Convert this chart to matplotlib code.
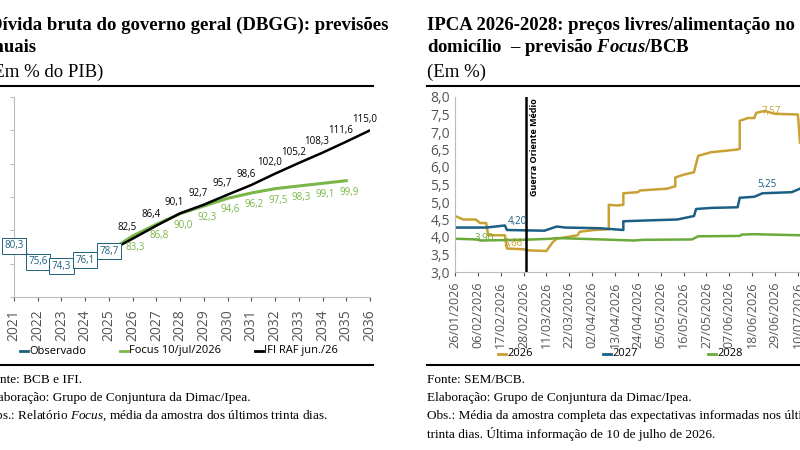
import numpy as np
import matplotlib.pyplot as plt
from datetime import date, timedelta

# painel esquerdo: DBGG (% do PIB)
anos_obs = [2021, 2022, 2023, 2024, 2025]
obs = [80.3, 75.6, 74.3, 76.1, 78.7]
anos_ifi = list(range(2025, 2037))
ifi = [78.7, 82.5, 86.4, 90.1, 92.7, 95.7, 98.6, 102.0, 105.2, 108.3, 111.6, 115.0]
anos_focus = list(range(2025, 2036))
focus = [78.7, 83.3, 86.8, 90.0, 92.3, 94.6, 96.2, 97.5, 98.3, 99.1, 99.9]

# painel direito: IPCA preços livres/alimentação no domicílio (dias desde 26/01/2026, valor)
ipca26 = [(0, 4.60), (4, 4.50), (10, 4.50), (12, 4.40), (15, 4.40), (16, 4.05), (24.5, 4.05),
          (25, 3.67), (33, 3.65), (35, 3.62), (44, 3.60), (47, 3.85), (49, 3.95), (54, 4.00),
          (59, 4.05), (60, 4.15), (67, 4.20), (74, 4.22), (74.5, 4.92), (78, 4.90), (81, 4.92),
          (81.5, 5.25), (88, 5.28), (89, 5.33), (102, 5.38), (106, 5.45), (106.5, 5.70),
          (110, 5.78), (115, 5.85), (117, 6.32), (119, 6.35), (123, 6.42), (136, 6.50),
          (137, 6.52), (137.5, 7.32), (141, 7.40), (144, 7.40), (145, 7.55), (149, 7.60),
          (154, 7.52), (165, 7.50), (166, 6.70)]
ipca27 = [(0, 4.27), (15, 4.27), (24, 4.33), (25.5, 4.20), (43, 4.18), (49, 4.30), (53, 4.27),
          (70, 4.25), (81, 4.20), (81.5, 4.45), (96, 4.48), (107, 4.50), (115, 4.60),
          (116.5, 4.80), (123, 4.83), (136, 4.85), (137.5, 5.12), (144, 5.15), (148, 5.25),
          (162, 5.28), (166, 5.38)]
ipca28 = [(0, 3.95), (11, 3.93), (12, 3.90), (33, 3.92), (46, 3.95), (49, 3.97), (60, 3.95),
          (86, 3.90), (91, 3.92), (114, 3.93), (117, 4.02), (137, 4.03), (138, 4.07),
          (144, 4.08), (166, 4.05)]

inicio = date(2026, 1, 26)
def to_dates(pts):
    return [inicio + timedelta(days=d) for d, _ in pts], [v for _, v in pts]

serif = 'Liberation Serif'
sans = 'Open Sans'
plt.rcParams['mathtext.fontset'] = 'custom'
plt.rcParams['mathtext.it'] = 'Liberation Serif:italic'
plt.rcParams['mathtext.rm'] = 'Liberation Serif'
plt.rcParams['mathtext.bfit'] = 'Liberation Serif:italic:bold'
fig = plt.figure(figsize=(8, 4.5), dpi=100)

# ---------- esquerdo ----------
ax = fig.add_axes([14 / 800, 1 - 297 / 450, 356 / 800, 200 / 450])
ax.plot(anos_obs, obs, color='#1f5f7f', lw=1.8)
ax.plot(anos_focus, focus, color='#7ab648', lw=2.2)
ax.plot(anos_ifi, ifi, color='black', lw=1.8)
for x, v in zip(anos_obs, obs):
    ax.annotate(f'{v:.1f}'.replace('.', ','), (x, v), fontsize=7, color='#1f5f7f', ha='center', va='center',
                family=sans, bbox=dict(boxstyle='square,pad=0.25', fc='white', ec='#1f5f7f', lw=0.7))
for x, v in zip(anos_ifi[1:], ifi[1:]):
    ax.annotate(f'{v:.1f}'.replace('.', ','), (x, v), xytext=(-4, 6), textcoords='offset points',
                fontsize=7, ha='center', family=sans)
for x, v in zip(anos_focus[1:], focus[1:]):
    ax.annotate(f'{v:.1f}'.replace('.', ','), (x, v), xytext=(2, -10), textcoords='offset points',
                fontsize=7, ha='center', color='#7ab648', family=sans)
ax.set_xlim(2021, 2036)
ax.set_ylim(65, 125)
ax.set_yticks(range(65, 126, 10))
ax.set_yticklabels([])
ax.set_xticks(range(2021, 2037))
ax.tick_params(axis='x', rotation=90, labelsize=10, colors='#555555', length=3, pad=6)
ax.tick_params(axis='y', length=3, colors='#bbbbbb')
for s in ['top', 'right']:
    ax.spines[s].set_visible(False)
for s in ['left', 'bottom']:
    ax.spines[s].set_color('#bbbbbb')
for lbl in ax.get_xticklabels():
    lbl.set_family(sans)

# ---------- direito ----------
ax2 = fig.add_axes([455 / 800, 1 - 272 / 450, 345 / 800, 175 / 450])
for pts, c in [(ipca26, '#c9a033'), (ipca27, '#1b5e86'), (ipca28, '#6aaa3a')]:
    xs, ys = to_dates(pts)
    ax2.plot(xs, ys, color=c, lw=1.8)
guerra = date(2026, 3, 1)
ax2.axvline(guerra, color='black', lw=1.8)
ax2.text(guerra + timedelta(days=2.5), 7.95, 'Guerra Oriente Médio', rotation=90, fontsize=6.5,
         fontweight='bold', va='top', ha='left', family=sans)
for d, v, t, c in [(30, 4.28, '4,20', '#1b5e86'), (14, 3.80, '3,90', '#6aaa3a'),
                   (28, 3.65, '3,66', '#c9a033'), (152, 7.42, '7,57', '#c9a033'),
                   (150, 5.33, '5,25', '#1b5e86')]:
    ax2.text(inicio + timedelta(days=d), v, t, fontsize=7, color=c, ha='center', va='bottom', family=sans)
ax2.set_xlim(inicio, inicio + timedelta(days=166.5))
ax2.set_ylim(3.0, 8.0)
ax2.set_yticks(np.arange(3.0, 8.01, 0.5))
ax2.set_yticklabels([f'{v:.1f}'.replace('.', ',') for v in np.arange(3.0, 8.01, 0.5)])
ticks = [inicio + timedelta(days=11 * i) for i in range(16)]
ax2.set_xticks(ticks)
ax2.set_xticklabels([t.strftime('%d/%m/%Y') for t in ticks])
ax2.tick_params(axis='x', rotation=90, labelsize=9, colors='#555555', length=3, pad=4)
ax2.tick_params(axis='y', labelsize=10, colors='#555555', length=0)
for s in ['top', 'right']:
    ax2.spines[s].set_visible(False)
for s in ['left', 'bottom']:
    ax2.spines[s].set_color('#bbbbbb')
for lbl in ax2.get_xticklabels() + ax2.get_yticklabels():
    lbl.set_family(sans)

# legendas
def leg(x, y, cor, txt):
    fig.add_artist(plt.Line2D([x / 800, (x + 8) / 800], [1 - y / 450] * 2, color=cor, lw=2))
    fig.text((x + 9) / 800, 1 - y / 450, txt, fontsize=8, va='center', family=sans)
leg(20, 351, '#1f5f7f', 'Observado')
leg(120, 351, '#7ab648', 'Focus 10/jul/2026')
leg(255, 351, 'black', 'IFI RAF jun./26')
leg(498, 354, '#c9a033', '2026')
leg(603, 354, '#1b5e86', '2027')
leg(708, 354, '#6aaa3a', '2028')
fig.add_artist(plt.Line2D([0, 373 / 800], [1 - 365 / 450] * 2, color='black', lw=1.5))
fig.add_artist(plt.Line2D([427 / 800, 1], [1 - 365 / 450] * 2, color='black', lw=1.5))

# títulos
fs = 13.5
fig.text(-0.014, 1 - 25 / 450, 'Dívida bruta do governo geral (DBGG): previsões', fontsize=fs,
         fontweight='bold', family=serif, va='center')
fig.text(-0.02, 1 - 48 / 450, 'anuais', fontsize=fs, fontweight='bold', family=serif, va='center')
fig.text(-0.016, 1 - 72 / 450, '(Em % do PIB)', fontsize=fs, family=serif, va='center')
fig.text(427 / 800, 1 - 25 / 450, 'IPCA 2026-2028: preços livres/alimentação no', fontsize=fs,
         fontweight='bold', family=serif, va='center')
fig.text(427 / 800, 1 - 48 / 450, 'domicílio  – previsão $\\mathbfit{Focus}$/BCB', fontsize=fs,
         fontweight='bold', family=serif, va='center')
fig.text(427 / 800, 1 - 72 / 450, '(Em %)', fontsize=fs, family=serif, va='center')
fig.add_artist(plt.Line2D([0, 373 / 800], [1 - 86 / 450] * 2, color='black', lw=1.5))
fig.add_artist(plt.Line2D([427 / 800, 1], [1 - 86 / 450] * 2, color='black', lw=1.5))

# notas
fig.text(-0.018, 1 - 380 / 450, 'Fonte: BCB e IFI.', fontsize=9.5, family=serif, va='center')
fig.text(-0.018, 1 - 398 / 450, 'Elaboração: Grupo de Conjuntura da Dimac/Ipea.', fontsize=9.5, family=serif, va='center')
fig.text(-0.018, 1 - 416 / 450, 'Obs.: Relatório $\\it{Focus}$, média da amostra dos últimos trinta dias.',
         fontsize=9.5, family=serif, va='center')
fig.text(427 / 800, 1 - 380 / 450, 'Fonte: SEM/BCB.', fontsize=9.5, family=serif, va='center')
fig.text(427 / 800, 1 - 398 / 450, 'Elaboração: Grupo de Conjuntura da Dimac/Ipea.', fontsize=9.5, family=serif, va='center')
fig.text(427 / 800, 1 - 416 / 450, 'Obs.: Média da amostra completa das expectativas informadas nos últimos',
         fontsize=9.5, family=serif, va='center')
fig.text(427 / 800, 1 - 434 / 450, 'trinta dias. Última informação de 10 de julho de 2026.',
         fontsize=9.5, family=serif, va='center')

fig.savefig('out.png', dpi=100)
